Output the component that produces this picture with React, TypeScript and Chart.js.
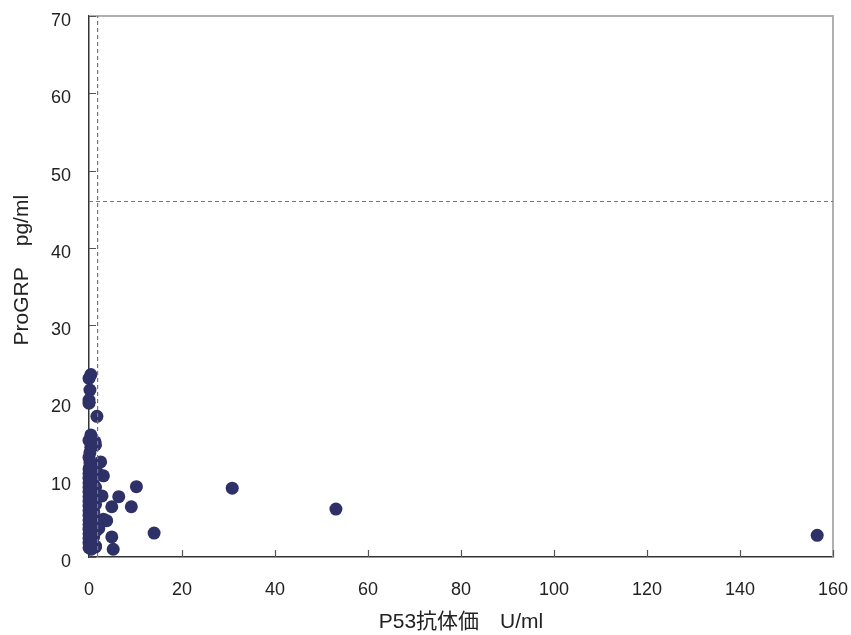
import React, { useEffect, useRef } from "react";
import { Chart, registerables } from "chart.js";

Chart.register(...registerables);

// P53 antibody titre (U/ml) and ProGRP (pg/ml), paired per patient
const p53Values: number[] = [
  0.4, 0.0, 0.2, 0.0, 0.0, 1.7, 0.4, 0.0, 0.4, 0.0, 2.5, 0.2, 3.1, 10.2, 30.8,
  2.8, 6.4, 4.9, 9.1, 3.1, 3.8, 2.1, 14.0, 4.9, 5.2, 53.1, 156.6, 1.4, 1.8, 1.3,
  0.0, 0.0, 0.0, 0.0, 0.0, 0.0, 0.0, 0.0, 0.0, 0.0, 0.0, 0.0, 0.0, 0.0, 0.0, 0.0, 0.0, 0.0,
  0.5, 0.5, 0.5, 0.5, 0.5, 0.5, 0.5, 0.5, 0.5, 0.5,
  1.0, 1.0, 1.0, 1.0, 1.0, 1.0, 1.0, 1.0,
  1.4, 1.4, 1.4, 1.4, 1.4, 1.4,
  0.2, 0.2,
];
const progrpValues: number[] = [
  23.6, 23.1, 21.6, 20.3, 19.9, 18.2, 15.8, 15.1, 14.2, 12.9, 12.3, 11.7, 10.5, 9.1, 8.9,
  7.9, 7.8, 6.5, 6.5, 4.9, 4.7, 3.7, 3.1, 2.6, 1.0, 6.2, 2.8, 1.3, 10.9, 14.9,
  1.2, 1.8, 2.4, 3.0, 3.6, 4.2, 4.8, 5.4, 6.0, 6.6, 7.2, 7.8, 8.4, 9.0, 9.6, 10.2, 10.8, 11.4,
  1.0, 2.0, 2.8, 3.9, 5.1, 6.3, 7.5, 8.7, 9.9, 11.0,
  1.5, 2.6, 4.4, 5.8, 7.0, 8.2, 9.4, 10.6,
  1.4, 3.3, 6.8, 9.0, 11.2, 14.5,
  13.5, 12.2,
];

// cut-off reference lines
const p53Cutoff = 1.85;
const progrpCutoff = 46;

const xMin = 0, xMax = 160, xStep = 20;
const yMin = 0, yMax = 70, yStep = 10;

const xTitle = "P53抗体価　U/ml";
const yTitle = "　  ProGRP　pg/ml";

const FONT = "'Liberation Sans', Arial, 'Noto Sans CJK JP', sans-serif";

const innerTicksPlugin = {
  id: "innerTicks",
  beforeDatasetsDraw(chart: any) {
    const { ctx, chartArea, scales } = chart;
    ctx.save();
    // grey top and right frame
    ctx.strokeStyle = "#b0b0b0";
    ctx.lineWidth = 2;
    ctx.beginPath();
    ctx.moveTo(chartArea.left, chartArea.top);
    ctx.lineTo(chartArea.right, chartArea.top);
    ctx.lineTo(chartArea.right, chartArea.bottom);
    ctx.stroke();
    // inner tick marks
    ctx.strokeStyle = "#555";
    ctx.lineWidth = 1.2;
    ctx.beginPath();
    scales.x.ticks.forEach((t: any) => {
      const px = Math.round(scales.x.getPixelForValue(t.value)) + 0.5;
      ctx.moveTo(px, chartArea.bottom);
      ctx.lineTo(px, chartArea.bottom - 7);
    });
    scales.y.ticks.forEach((t: any) => {
      const py = Math.round(scales.y.getPixelForValue(t.value)) + 0.5;
      ctx.moveTo(chartArea.left, py);
      ctx.lineTo(chartArea.left + 7, py);
    });
    ctx.stroke();
    ctx.restore();
  },
};

export default function App() {
  const ref = useRef<HTMLCanvasElement | null>(null);
  useEffect(() => {
    if (!ref.current) return;
    const points = p53Values.map((x, i) => ({ x, y: progrpValues[i] }));
    const chart = new Chart(ref.current, {
      type: "scatter",
      data: {
        datasets: [
          {
            type: "line",
            data: [
              { x: p53Cutoff, y: yMin },
              { x: p53Cutoff, y: yMax },
            ],
            borderColor: "#777",
            borderWidth: 1.2,
            borderDash: [4, 3],
            pointRadius: 0,
            showLine: true,
            fill: false,
          } as any,
          {
            type: "line",
            data: [
              { x: xMin, y: progrpCutoff },
              { x: xMax, y: progrpCutoff },
            ],
            borderColor: "#777",
            borderWidth: 1.2,
            borderDash: [4, 3],
            pointRadius: 0,
            showLine: true,
            fill: false,
          } as any,
          {
            data: points,
            backgroundColor: "#2e3068",
            borderColor: "#2e3068",
            borderWidth: 0,
            pointRadius: 6.5,
            clip: false,
          } as any,
        ],
      },
      options: {
        responsive: false,
        animation: false,
        devicePixelRatio: 1,
        layout: { padding: { top: 16, right: 18, left: 0, bottom: 0 } },
        plugins: {
          legend: { display: false },
          tooltip: { enabled: false },
        },
        scales: {
          x: {
            type: "linear",
            min: xMin,
            max: xMax,
            ticks: {
              stepSize: xStep,
              color: "#222",
              font: { family: FONT, size: 18 },
              padding: 22,
            },
            grid: { display: false, drawTicks: false },
            border: { color: "#333", width: 1.5 },
            title: {
              display: true,
              text: xTitle,
              color: "#222",
              font: { family: FONT, size: 21 },
              padding: { top: 0, bottom: 0 },
            },
            afterFit(scale: any) {
              scale.height = 78;
              scale.paddingLeft = 0;
              scale.paddingRight = 0;
            },
          },
          y: {
            type: "linear",
            min: yMin,
            max: yMax,
            ticks: {
              stepSize: yStep,
              color: "#222",
              font: { family: FONT, size: 18 },
              padding: 18,
              labelOffset: 5,
            },
            grid: { display: false, drawTicks: false },
            border: { color: "#333", width: 1.5 },
            title: {
              display: true,
              text: yTitle,
              color: "#222",
              font: { family: FONT, size: 21 },
              padding: { top: 10, bottom: 0 },
            },
            afterFit(scale: any) {
              scale.width = 89;
              scale.paddingTop = 0;
              scale.paddingBottom = 0;
            },
          },
        },
      },
      plugins: [innerTicksPlugin],
    });
    return () => chart.destroy();
  }, []);
  return (
    <div style={{ position: "absolute", left: 0, top: 0, width: 851, height: 635, background: "#fff" }}>
      <canvas ref={ref} width={851} height={635} />
    </div>
  );
}
